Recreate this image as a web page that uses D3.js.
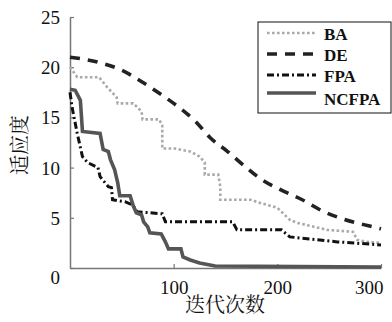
<!DOCTYPE html>
<html>
<head>
<meta charset="utf-8">
<script src="https://cdn.jsdelivr.net/npm/d3@7"></script>
<style>
  body { margin: 0; background: #fff; }
  svg { display: block; }
</style>
</head>
<body>
<div class="chartHolder"></div>
<script>
// iterations (x) and fitness (y) per algorithm
let baIter = [0, 7, 28, 36, 45, 46, 61, 69, 70, 86, 89, 89, 101, 116, 125, 130, 130, 143, 145, 145, 174, 183, 200, 212, 219, 248, 273, 277, 286, 300];
let baFit = [20.0, 19.0, 19.0, 18.0, 17.0, 16.4, 16.4, 15.6, 14.8, 14.8, 14.2, 11.9, 11.9, 11.6, 11.1, 10.5, 9.3, 9.3, 8.1, 6.8, 6.8, 6.5, 6.0, 4.8, 4.5, 3.8, 3.6, 2.8, 2.6, 2.5];

let deIter = [0, 27, 50, 70, 89, 100, 122, 135, 152, 169, 185, 203, 224, 243, 263, 288, 300];
let deFit = [21.0, 20.5, 19.7, 18.5, 17.2, 16.4, 14.5, 13.0, 11.6, 10.1, 8.8, 7.8, 6.8, 5.7, 4.9, 4.2, 3.9];

let fpaIter = [0, 2, 7, 12, 17, 27, 29, 37, 40, 41, 53, 60, 65, 89, 92, 157, 161, 204, 212, 258, 300];
let fpaFit = [17.5, 16.0, 13.4, 11.1, 10.5, 10.0, 9.1, 8.1, 8.0, 6.8, 6.6, 6.3, 5.6, 5.4, 4.6, 4.6, 3.8, 3.8, 3.1, 2.6, 2.3];

let ncIter = [0, 5, 10, 12, 29, 32, 37, 39, 43, 46, 48, 58, 61, 64, 69, 71, 75, 77, 88, 92, 95, 107, 109, 116, 125, 140, 300];
let ncFit = [17.8, 17.7, 16.7, 13.6, 13.4, 11.8, 11.6, 10.8, 9.8, 8.5, 7.2, 7.2, 6.2, 5.5, 5.3, 4.6, 4.1, 3.5, 3.4, 2.6, 1.9, 1.9, 1.1, 0.8, 0.5, 0.2, 0.1];

let seriesNames = ["BA", "DE", "FPA", "NCFPA"];
let xTicks = [100, 200, 300];
let yTicks = [0, 5, 10, 15, 20, 25];

let width = 392,
  height = 322;

let latinFont = "Liberation Serif";
let cjkFont = "Noto Serif CJK SC";

let svg = d3
  .select(".chartHolder")
  .append("svg")
  .attr("width", width)
  .attr("height", height);

// scales
let xScale = d3.scaleLinear().domain([0, 300]).range([70, 381]);
let yScale = d3.scaleLinear().domain([0, 25]).range([268, 17]);

// line styles for each series
let styles = {
  BA: { color: "#aaaaaa", width: 2.6, dash: "2.6,2.4" },
  DE: { color: "#222222", width: 3.6, dash: "10,8" },
  FPA: { color: "#111111", width: 3, dash: "7,3,2,3" },
  NCFPA: { color: "#555555", width: 3.6, dash: null }
};

let seriesData = {
  BA: baIter.map((d, i) => [d, baFit[i]]),
  DE: deIter.map((d, i) => [d, deFit[i]]),
  FPA: fpaIter.map((d, i) => [d, fpaFit[i]]),
  NCFPA: ncIter.map((d, i) => [d, ncFit[i]])
};

//////// axes ////////
let xAxis = d3.axisBottom(xScale).tickValues(xTicks).tickSizeInner(-4).tickSizeOuter(0).tickPadding(12);
let yAxis = d3.axisLeft(yScale).tickValues(yTicks).tickSizeInner(-4).tickSizeOuter(0).tickPadding(10);

let xg = svg.append("g").attr("transform", "translate(0,268)").call(xAxis);
let yg = svg.append("g").attr("transform", "translate(70,0)").call(yAxis);

[xg, yg].forEach((g) => {
  g.attr("font-family", latinFont).attr("font-size", 19);
  g.select(".domain").attr("stroke", "#777").attr("stroke-width", 1.5);
  g.selectAll(".tick line").attr("stroke", "#777").attr("stroke-width", 1.2);
  g.selectAll(".tick text")
    .attr("fill", "#111")
    .attr("dy", null)
    .style("font-family", latinFont);
});
// baselines set directly instead of em offsets
xg.selectAll(".tick text").attr("y", 26);
yg.selectAll(".tick text").attr("y", 6.5);
// zero label sits a bit lower, last x label pulled inside the frame
yg.selectAll(".tick text").filter((d) => d === 0).attr("y", 15.5);
xg.selectAll(".tick text").filter((d) => d === 300).attr("text-anchor", "end").attr("x", 2);

//////// lines ////////
let line = d3
  .line()
  .x((d) => xScale(d[0]))
  .y((d) => yScale(d[1]));

seriesNames.forEach((name) => {
  let s = styles[name];
  // DE is a smooth curve, the others are step-like polylines
  line.curve(name === "DE" ? d3.curveMonotoneX : d3.curveLinear);
  svg
    .append("path")
    .attr("fill", "none")
    .attr("stroke", s.color)
    .attr("stroke-width", s.width)
    .attr("stroke-dasharray", s.dash)
    .attr("d", line(seriesData[name]));
});

//////// axis titles ////////
svg
  .append("text")
  .attr("x", 225)
  .attr("y", 312)
  .attr("text-anchor", "middle")
  .style("font-family", cjkFont)
  .style("font-size", "20px")
  .attr("fill", "#111")
  .text("迭代次数");

svg
  .append("text")
  .attr("transform", "translate(27,145) rotate(-90)")
  .attr("text-anchor", "middle")
  .style("font-family", cjkFont)
  .style("font-size", "20px")
  .attr("fill", "#111")
  .text("适应度");

//////// legend ////////
let legend = svg.append("g");
legend
  .append("rect")
  .attr("x", 258)
  .attr("y", 22)
  .attr("width", 133)
  .attr("height", 91)
  .attr("fill", "#fff")
  .attr("stroke", "#111")
  .attr("stroke-width", 1);

let legendY = [33, 54, 75, 93];
let legendTextY = [40, 61, 82, 105];

seriesNames.forEach((name, i) => {
  let s = styles[name];
  legend
    .append("line")
    .attr("x1", 267)
    .attr("x2", 316)
    .attr("y1", legendY[i])
    .attr("y2", legendY[i])
    .attr("stroke", s.color)
    .attr("stroke-width", s.width)
    .attr("stroke-dasharray", s.dash);
  legend
    .append("text")
    .attr("x", 324)
    .attr("y", legendTextY[i])
    .style("font-family", latinFont)
    .style("font-weight", "bold")
    .style("font-size", "17px")
    .attr("fill", "#111")
    .text(name);
});
</script>
</body>
</html>
